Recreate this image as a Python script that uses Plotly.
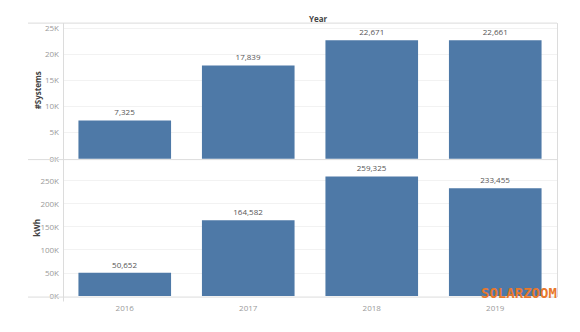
import plotly.graph_objects as go
from plotly.subplots import make_subplots

# Yearly installed systems and generated energy
years = ["2016", "2017", "2018", "2019"]
systems = [7325, 17839, 22671, 22661]
kwh = [50652, 164582, 259325, 233455]

systems_ticks = [0, 5000, 10000, 15000, 20000, 25000]
systems_ticktext = ["0K", "5K", "10K", "15K", "20K", "25K"]
kwh_ticks = [0, 50000, 100000, 150000, 200000, 250000]
kwh_ticktext = ["0K", "50K", "100K", "150K", "200K", "250K"]

W, H = 580, 332
BAR = "#4e79a7"
GRID = "#f2f2f2"
RULE = "#dcdcdc"
TICK_FONT = dict(family="Open Sans, Lato, sans-serif", size=8, color="#9a9a9a")
LABEL_FONT = dict(family="Open Sans, Lato, sans-serif", size=8, color="#555555")


def px_x(x):
    return x / W


def px_y(y):
    return 1 - y / H


fig = make_subplots(rows=2, cols=1, shared_xaxes=True, vertical_spacing=0)

fig.add_trace(go.Bar(x=years, y=systems, marker_color=BAR, marker_line_width=0,
                     texttemplate="%{y:,}", textposition="outside",
                     textfont=LABEL_FONT, cliponaxis=False, width=0.75),
              row=1, col=1)
fig.add_trace(go.Bar(x=years, y=kwh, marker_color=BAR, marker_line_width=0,
                     texttemplate="%{y:,}", textposition="outside",
                     textfont=LABEL_FONT, cliponaxis=False, width=0.75),
              row=2, col=1)

x_dom = [px_x(63), px_x(557)]
fig.update_layout(
    width=W, height=H, margin=dict(l=0, r=0, t=0, b=0),
    paper_bgcolor="white", plot_bgcolor="white", showlegend=False,
    bargap=0.25,
    xaxis=dict(domain=x_dom, showticklabels=False, showgrid=False,
               zeroline=False, showline=False),
    xaxis2=dict(domain=x_dom, showgrid=False, zeroline=False, showline=False,
                tickfont=TICK_FONT, ticks="", ticklabelstandoff=5),
    yaxis=dict(domain=[px_y(160), px_y(22)], range=[-80, 25850],
               tickvals=systems_ticks, ticktext=systems_ticktext,
               tickfont=TICK_FONT, gridcolor=GRID, gridwidth=1,
               zeroline=False, showline=False, ticks="", ticklabelstandoff=3),
    yaxis2=dict(domain=[px_y(300), px_y(161)], range=[-1000, 294700],
                tickvals=kwh_ticks, ticktext=kwh_ticktext,
                tickfont=TICK_FONT, gridcolor=GRID, gridwidth=1,
                zeroline=False, showline=False, ticks="", ticklabelstandoff=3),
)

# Frame rules around the panels
shapes = []
for y in (21.5, 160.5, 300.5):
    shapes.append(dict(type="line", xref="paper", yref="paper",
                       x0=px_x(28), x1=px_x(557), y0=px_y(y), y1=px_y(y),
                       line=dict(color=RULE, width=1)))
shapes.append(dict(type="line", xref="paper", yref="paper",
                   x0=px_x(63.5), x1=px_x(63.5), y0=px_y(21.5), y1=px_y(305),
                   line=dict(color=RULE, width=1)))
shapes.append(dict(type="line", xref="paper", yref="paper",
                   x0=px_x(557.5), x1=px_x(557.5), y0=px_y(21.5), y1=px_y(300.5),
                   line=dict(color=RULE, width=1)))
fig.update_layout(shapes=shapes)

bold = dict(family="Open Sans, Lato, sans-serif", size=8, color="#444444")


def label(text, x, y, font, angle=0):
    fig.add_annotation(text=text, xref="paper", yref="paper",
                       x=px_x(x), y=px_y(y), xanchor="center", yanchor="middle",
                       showarrow=False, font=font, textangle=angle)


label("<b>Year</b>", 318, 17, bold)
label("<b>#Systems</b>", 37, 90, bold, -90)
label("<b>kWh</b>", 37, 230, bold, -90)
label("<b>SOLARZOOM</b>", 519, 296,
      dict(family="DejaVu Sans Mono, monospace", size=14, color="#e8782c"))

fig.write_html("out.html")
